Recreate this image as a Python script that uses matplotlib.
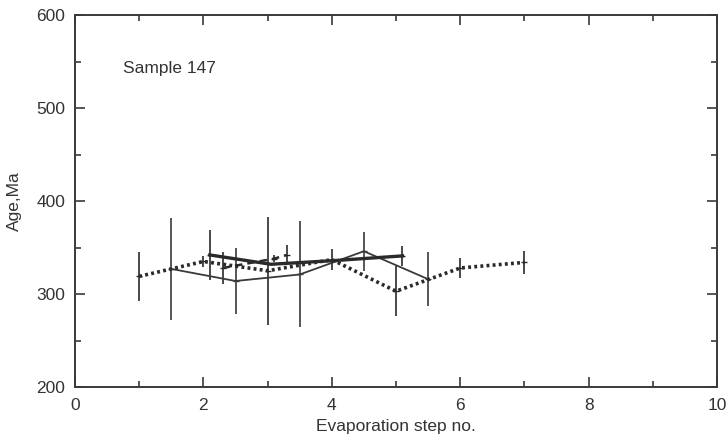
import matplotlib
matplotlib.use("Agg")
import matplotlib.pyplot as plt
from matplotlib.ticker import MultipleLocator

plt.rcParams['font.family'] = ['Liberation Sans', 'DejaVu Sans']

# Dotted series (integer steps)
a_x = [1, 2, 3, 4, 5, 6, 7]
a_y = [319, 335, 325, 337, 303, 328, 334]
a_err = [26, 6, 58, 11, 27, 11, 12]

# Thin solid series
b_x = [1.5, 2.5, 3.5, 4.5, 5.5]
b_y = [327, 314, 321, 346, 316]
b_err = [55, 36, 57, 21, 29]

# Thick solid series
c_x = [2.1, 3.05, 4.05, 5.1]
c_y = [342, 332, 336, 341]
c_err = [27, 0, 0, 11]

# Dashed series
d_x = [2.3, 3.1, 3.3]
d_y = [328, 338, 342]
d_err = [17, 4, 11]

x_ticks = [0, 2, 4, 6, 8, 10]
y_ticks = [200, 300, 400, 500, 600]

col = '#3a3a3a'
fig = plt.figure(figsize=(7.28, 4.42), dpi=100)
ax = fig.add_axes([0.103, 0.1244, 0.882, 0.8416])

ax.errorbar(b_x, b_y, yerr=b_err, color=col, lw=1.3, elinewidth=1.2,
            capsize=0, marker='_', ms=5)
ax.errorbar(c_x, c_y, yerr=c_err, color='#2a2a2a', lw=2.4, elinewidth=1.2,
            capsize=0, marker='_', ms=5)
ax.errorbar(a_x, a_y, yerr=a_err, color='#2a2a2a', lw=2.6, ls=(0, (0.8, 0.9)),
            elinewidth=1.2, capsize=0, marker='_', ms=5)
ax.errorbar(d_x, d_y, yerr=d_err, color='#2a2a2a', lw=1.8, ls=(0, (3, 2)),
            elinewidth=1.2, capsize=0, marker='_', ms=5)

ax.set_xlim(0, 10)
ax.set_ylim(200, 600)
ax.set_xticks(x_ticks)
ax.set_yticks(y_ticks)
ax.xaxis.set_minor_locator(MultipleLocator(1))
ax.yaxis.set_minor_locator(MultipleLocator(50))
ax.tick_params(which='both', direction='in', top=True, right=True,
               color=col, labelsize=12.5, labelcolor='#333333')
ax.tick_params(which='major', length=7, width=1.2)
ax.tick_params(which='minor', length=4, width=1.2)
ax.tick_params(axis='x', which='major', pad=8)
ax.tick_params(axis='y', which='major', pad=7)
for s in ax.spines.values():
    s.set_color(col)
    s.set_linewidth(1.4)

ax.set_xlabel('Evaporation step no.', fontsize=12.5, color='#333333', labelpad=4)
ax.set_ylabel('Age,Ma', fontsize=12.5, color='#333333', labelpad=10)
ax.text(0.75, 543, 'Sample 147', fontsize=12.5, color='#333333', va='center')

fig.savefig('out.png', dpi=100)
